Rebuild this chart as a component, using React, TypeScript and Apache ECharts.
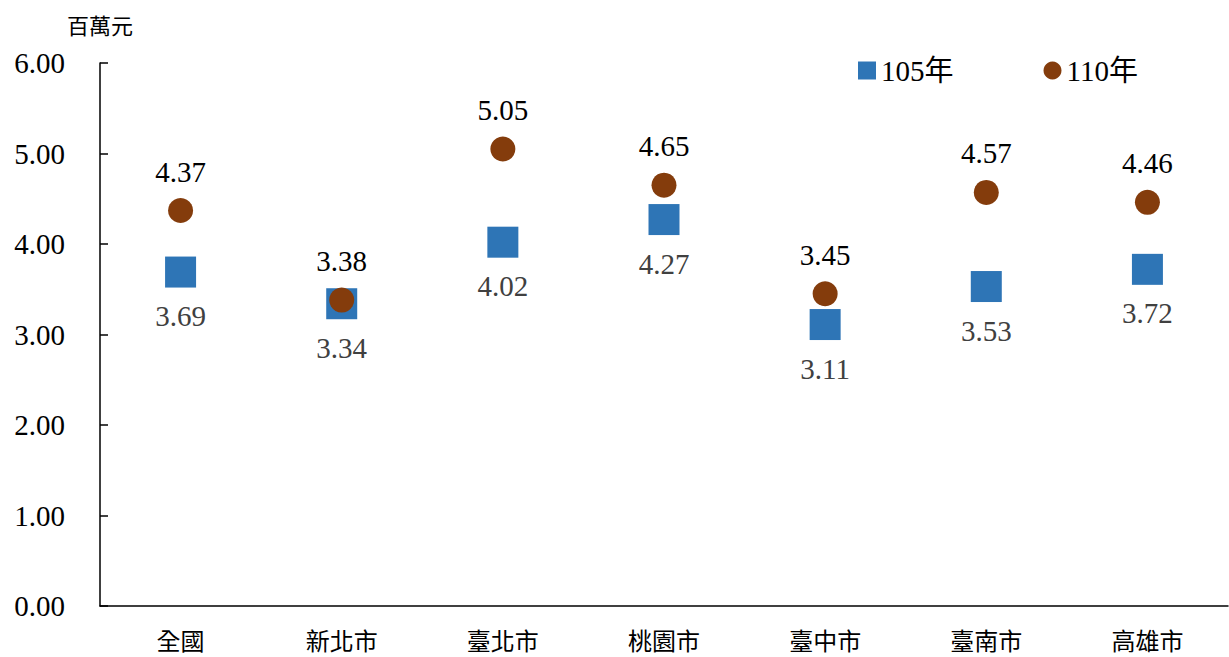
import React, { useEffect, useRef } from "react";
import * as echarts from "echarts";

const categories = ["全國", "新北市", "臺北市", "桃園市", "臺中市", "臺南市", "高雄市"];
const values105 = [3.69, 3.34, 4.02, 4.27, 3.11, 3.53, 3.72];
const values110 = [4.37, 3.38, 5.05, 4.65, 3.45, 4.57, 4.46];
const seriesNames = ["105年", "110年"];
const unitLabel = "百萬元";

const SERIF = "'Liberation Serif', 'Times New Roman', 'Noto Sans CJK TC', serif";

export default function App() {
  const ref = useRef<HTMLDivElement>(null);
  useEffect(() => {
    if (!ref.current) return;
    const chart = echarts.init(ref.current, null, { renderer: "svg" });
    chart.setOption({
      animation: false,
      backgroundColor: "#ffffff",
      grid: { left: 100, right: 1, top: 63, bottom: 51, containLabel: false },
      legend: {
        left: 853,
        top: 51,
        itemWidth: 18,
        itemHeight: 18,
        itemGap: 90,
        textStyle: { fontFamily: SERIF, fontSize: 29, color: "#000" },
        data: [
          { name: seriesNames[0], icon: "rect", itemStyle: { color: "#2E75B6", opacity: 1 } },
          { name: seriesNames[1], icon: "circle", itemStyle: { color: "#843C0C", opacity: 1 } },
        ],
      },
      graphic: [
        {
          type: "text",
          left: 67,
          top: 13,
          style: {
            text: unitLabel,
            font: "22px 'Noto Sans CJK TC'",
            fill: "#000",
          },
        },
      ],
      xAxis: {
        type: "category",
        data: categories,
        boundaryGap: true,
        axisLine: { lineStyle: { color: "#000", width: 1.5 } },
        axisTick: { inside: true, length: 8, lineStyle: { color: "#000", width: 1.5 } },
        axisLabel: {
          fontFamily: "'Noto Sans CJK TC'",
          fontSize: 24,
          lineHeight: 24,
          color: "#000",
          margin: 21,
        },
      },
      yAxis: {
        type: "value",
        min: 0,
        max: 6,
        interval: 1,
        splitLine: { show: false },
        axisLine: { show: true, lineStyle: { color: "#000", width: 1.5 } },
        axisTick: { show: true, inside: true, length: 8, lineStyle: { color: "#000", width: 1.5 } },
        axisLabel: {
          fontFamily: SERIF,
          fontSize: 29,
          color: "#000",
          margin: 35,
          formatter: (v: number) => v.toFixed(2),
        },
      },
      series: [
        {
          name: seriesNames[0],
          type: "scatter",
          data: values105,
          symbol: "rect",
          symbolSize: 31,
          itemStyle: { color: "#2E75B6", opacity: 1 },
          label: {
            show: true,
            position: "bottom",
            distance: 14,
            fontFamily: SERIF,
            fontSize: 29,
            color: "#404040",
            formatter: (p: any) => Number(p.value).toFixed(2),
          },
          z: 2,
        },
        {
          name: seriesNames[1],
          type: "scatter",
          data: values110,
          symbol: "circle",
          symbolSize: 25,
          itemStyle: { color: "#843C0C", opacity: 1 },
          label: {
            show: true,
            position: "top",
            distance: 12,
            fontFamily: SERIF,
            fontSize: 29,
            color: "#000",
            formatter: (p: any) => Number(p.value).toFixed(2),
          },
          z: 3,
        },
      ],
    });
    return () => chart.dispose();
  }, []);
  return (
    <div
      ref={ref}
      style={{ position: "fixed", left: 0, top: 0, width: 1229, height: 657 }}
    />
  );
}
